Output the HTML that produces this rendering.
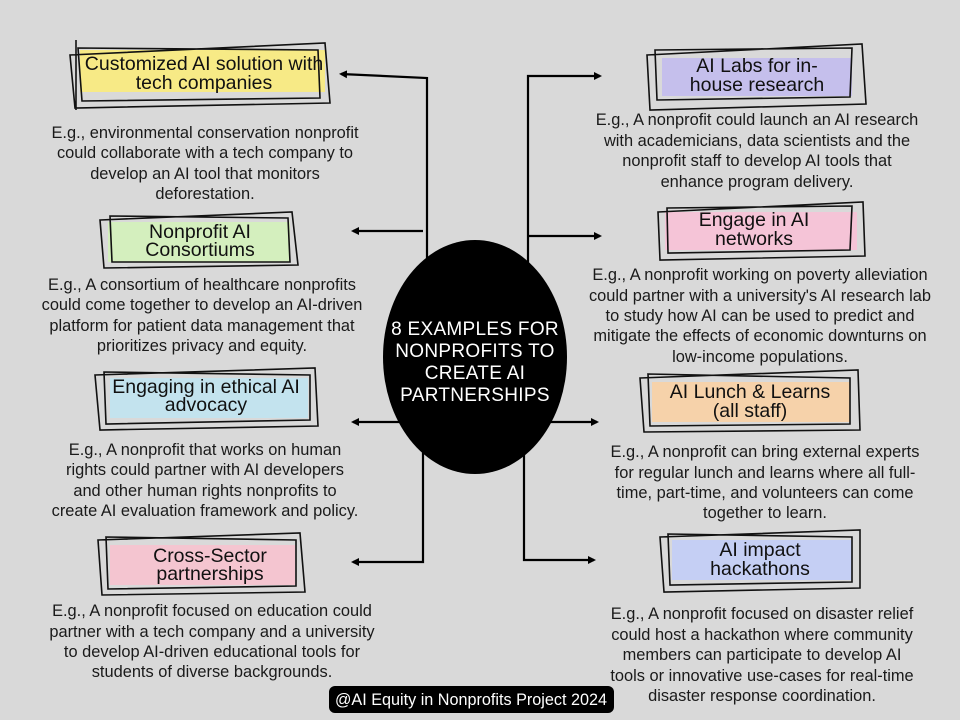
<!DOCTYPE html>
<html><head><meta charset="utf-8"><style>
html,body{margin:0;padding:0;background:#d9d9d9;}
svg{display:block}
.t{font-family:"Liberation Sans","DejaVu Sans",sans-serif;font-size:19.5px;fill:#111;text-anchor:middle}
.d{font-family:"Liberation Sans","DejaVu Sans",sans-serif;font-size:16.4px;fill:#1a1a1a;text-anchor:middle}
.c{font-family:"Liberation Sans","DejaVu Sans",sans-serif;font-size:19px;fill:#fff;text-anchor:middle;letter-spacing:0.3px}
.b{fill:none;stroke:#111;stroke-width:1.6}
.l{stroke:#000;stroke-width:2.2;fill:none}
</style></head><body>
<svg width="960" height="720" viewBox="0 0 960 720" xmlns="http://www.w3.org/2000/svg">
<rect width="960" height="720" fill="#d9d9d9"/>
<defs><marker id="a" markerWidth="8" markerHeight="8" refX="6" refY="4" orient="auto" markerUnits="userSpaceOnUse"><path d="M0,0 L8,4 L0,8 Z" fill="#000"/></marker></defs>

<!-- connectors -->
<path class="l" d="M427,300 L427,78 L341,74" marker-end="url(#a)"/>
<path class="l" d="M423,231 L353,231" marker-end="url(#a)"/>
<path class="l" d="M400,422 L353,422" marker-end="url(#a)"/>
<path class="l" d="M423,440 L423,562 L353,562" marker-end="url(#a)"/>
<path class="l" d="M528,300 L528,76 L600,76" marker-end="url(#a)"/>
<path class="l" d="M528,236 L600,236" marker-end="url(#a)"/>
<path class="l" d="M550,422 L597,422" marker-end="url(#a)"/>
<path class="l" d="M524,440 L524,560 L594,560" marker-end="url(#a)"/>

<ellipse cx="475" cy="357" rx="92" ry="117" fill="#000"/>
<text class="c" x="475" y="335">8 EXAMPLES FOR</text>
<text class="c" x="475" y="357">NONPROFITS TO</text>
<text class="c" x="475" y="379">CREATE AI</text>
<text class="c" x="475" y="401">PARTNERSHIPS</text>

<!-- box 1 -->
<rect x="80" y="50" width="245" height="42" fill="#f7ea86"/>
<path class="b" d="M70,55 L325,43 L330,103 L75,108 Z M78,48 L318,50 L320,98 L82,101 Z M76,40 L76,110"/>
<text class="t" x="204" y="70">Customized AI solution with</text>
<text class="t" x="204" y="89">tech companies</text>
<text class="d" x="205" y="138">E.g., environmental conservation nonprofit</text>
<text class="d" x="205" y="158">could collaborate with a tech company to</text>
<text class="d" x="205" y="179">develop an AI tool that monitors</text>
<text class="d" x="205" y="199">deforestation.</text>

<!-- box 2 -->
<rect x="108" y="222" width="182" height="40" fill="#d4efbe"/>
<path class="b" d="M100,220 L292,212 L298,265 L104,268 Z M110,216 L288,218 L290,262 L112,262 Z"/>
<text class="t" x="200" y="238">Nonprofit AI</text>
<text class="t" x="200" y="256">Consortiums</text>
<text class="d" x="202" y="290">E.g., A consortium of healthcare nonprofits</text>
<text class="d" x="202" y="310">could come together to develop an AI-driven</text>
<text class="d" x="202" y="331">platform for patient data management that</text>
<text class="d" x="202" y="351">prioritizes privacy and equity.</text>

<!-- box 3 -->
<rect x="110" y="378" width="198" height="40" fill="#c3e3ee"/>
<path class="b" d="M95,375 L315,368 L318,426 L100,430 Z M104,372 L310,375 L310,420 L106,424 Z"/>
<text class="t" x="206" y="393">Engaging in ethical AI</text>
<text class="t" x="206" y="411">advocacy</text>
<text class="d" x="205" y="455">E.g., A nonprofit that works on human</text>
<text class="d" x="205" y="475">rights could partner with AI developers</text>
<text class="d" x="205" y="496">and other human rights nonprofits to</text>
<text class="d" x="205" y="516">create AI evaluation framework and policy.</text>

<!-- box 4 -->
<rect x="110" y="545" width="185" height="40" fill="#f4c5d0"/>
<path class="b" d="M98,540 L300,533 L305,592 L102,595 Z M106,537 L296,540 L296,586 L108,589 Z"/>
<text class="t" x="210" y="562">Cross-Sector</text>
<text class="t" x="210" y="580">partnerships</text>
<text class="d" x="212" y="616">E.g., A nonprofit focused on education could</text>
<text class="d" x="212" y="637">partner with a tech company and a university</text>
<text class="d" x="212" y="657">to develop AI-driven educational tools for</text>
<text class="d" x="212" y="677">students of diverse backgrounds.</text>

<!-- box 5 -->
<rect x="662" y="58" width="190" height="38" fill="#c5bfec"/>
<path class="b" d="M647,55 L862,44 L866,104 L650,110 Z M655,50 L852,48 L850,97 L657,100 Z"/>
<text class="t" x="757" y="72">AI Labs for in-</text>
<text class="t" x="757" y="91">house research</text>
<text class="d" x="757" y="125">E.g., A nonprofit could launch an AI research</text>
<text class="d" x="757" y="146">with academicians, data scientists and the</text>
<text class="d" x="757" y="166">nonprofit staff to develop AI tools that</text>
<text class="d" x="757" y="187">enhance program delivery.</text>

<!-- box 6 -->
<rect x="665" y="212" width="192" height="38" fill="#f5c4d7"/>
<path class="b" d="M658,212 L863,202 L865,256 L660,260 Z M667,208 L852,206 L850,250 L668,253 Z"/>
<text class="t" x="754" y="226">Engage in AI</text>
<text class="t" x="754" y="245">networks</text>
<text class="d" x="760" y="280">E.g., A nonprofit working on poverty alleviation</text>
<text class="d" x="760" y="301">could partner with a university's AI research lab</text>
<text class="d" x="760" y="321">to study how AI can be used to predict and</text>
<text class="d" x="760" y="341">mitigate the effects of economic downturns on</text>
<text class="d" x="760" y="362">low-income populations.</text>

<!-- box 7 -->
<rect x="652" y="382" width="198" height="40" fill="#f6d2aa"/>
<path class="b" d="M640,378 L858,370 L860,430 L644,432 Z M648,374 L850,378 L850,424 L650,426 Z"/>
<text class="t" x="750" y="398">AI Lunch &amp; Learns</text>
<text class="t" x="750" y="417">(all staff)</text>
<text class="d" x="765" y="457">E.g., A nonprofit can bring external experts</text>
<text class="d" x="765" y="478">for regular lunch and learns where all full-</text>
<text class="d" x="765" y="498">time, part-time, and volunteers can come</text>
<text class="d" x="765" y="518">together to learn.</text>

<!-- box 8 -->
<rect x="672" y="540" width="180" height="40" fill="#c5cff4"/>
<path class="b" d="M660,537 L860,530 L860,588 L664,592 Z M668,534 L852,537 L852,582 L670,585 Z"/>
<text class="t" x="760" y="556">AI impact</text>
<text class="t" x="760" y="575">hackathons</text>
<text class="d" x="762" y="619">E.g., A nonprofit focused on disaster relief</text>
<text class="d" x="762" y="640">could host a hackathon where community</text>
<text class="d" x="762" y="660">members can participate to develop AI</text>
<text class="d" x="762" y="681">tools or innovative use-cases for real-time</text>
<text class="d" x="762" y="701">disaster response coordination.</text>

<rect x="329" y="686" width="285" height="27" rx="6" fill="#000"/>
<text class="d" x="471" y="705" style="fill:#fff;font-size:16.2px">@AI Equity in Nonprofits Project 2024</text>
</svg>
</body></html>
